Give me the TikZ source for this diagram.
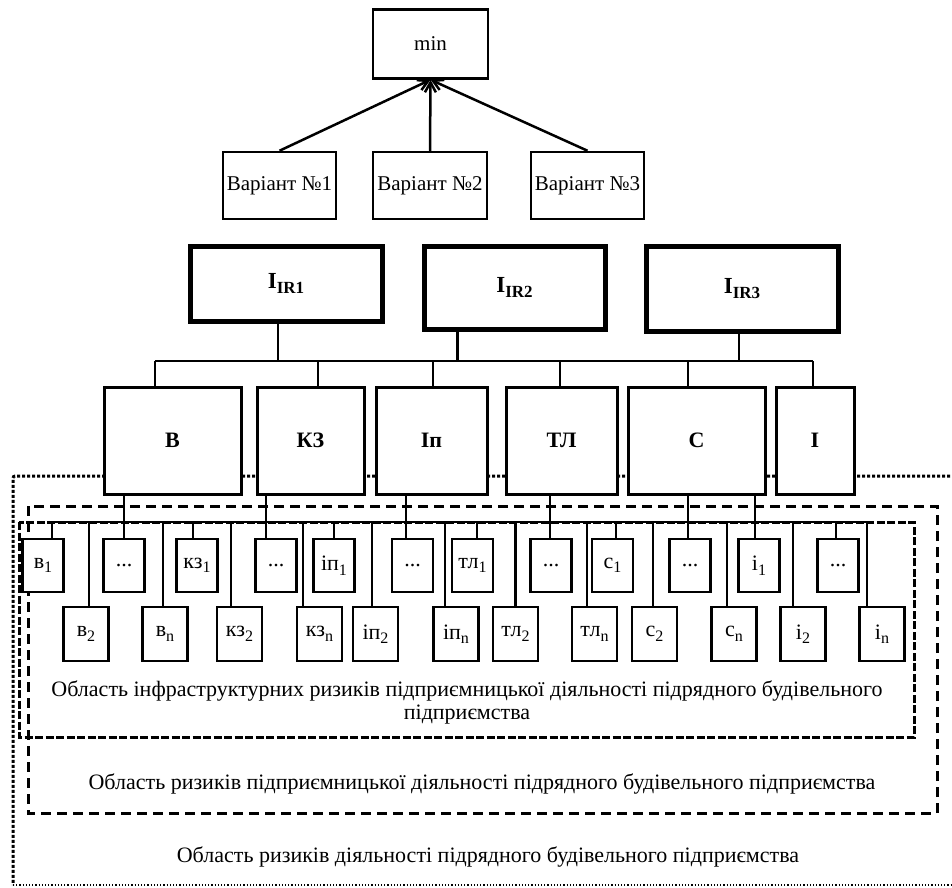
\documentclass[tikz,border=0pt]{standalone}
\usepackage{fontspec}
\setmainfont{Liberation Serif}
\usetikzlibrary{arrows.meta}
\tikzset{
  box/.style={draw, fill=white, line width=2.5pt, inner sep=0pt, font=\fontsize{21}{24}\selectfont},
  irbox/.style={draw, fill=white, line width=5pt, inner sep=0pt, font=\bfseries\fontsize{23}{26}\selectfont},
  catbox/.style={draw, fill=white, line width=3pt, inner sep=0pt, minimum height=107pt, font=\bfseries\fontsize{22}{25}\selectfont},
  upbox/.style={draw, fill=white, line width=2.5pt, inner sep=0pt, minimum width=41pt, minimum height=53pt, font=\fontsize{22}{22}\selectfont},
  lowbox/.style={draw, fill=white, line width=2.5pt, inner sep=0pt, minimum width=45pt, minimum height=54pt, font=\fontsize{22}{22}\selectfont},
  link/.style={line width=2.5pt},
  arr/.style={line width=2.5pt, -{Straight Barb[length=10pt,width=11pt]}},
  area/.style={font=\fontsize{22}{23}\selectfont, align=center},
}
\newcommand{\lowsub}[1]{\raisebox{-0.45ex}{\fontsize{16}{16}\selectfont #1}}
\newcommand{\irsub}[1]{\raisebox{-0.55ex}{\fontsize{17}{17}\selectfont #1}}

\begin{document}
\begin{tikzpicture}[x=1pt, y=-1pt]
  \useasboundingbox (0,0) rectangle (952,887);

  % Risk areas
  \draw[line width=3pt, dotted, rounded corners=2pt] (960,476) -- (13,476) -- (13,885);
  \draw[line width=1.2pt, dotted] (13,885) -- (960,885);
  \draw[line width=3pt, dash pattern=on 10pt off 6pt] (28,506) rectangle (937,813);
  \draw[line width=3pt, dash pattern=on 8pt off 2.5pt] (19,522) rectangle (914,737);

  \node[area] (aInfra) at (467,702) {Область інфраструктурних ризиків підприємницької діяльності підрядного будівельного\\підприємства};
  \node[area] (aBiz) at (482,784) {Область ризиків підприємницької діяльності підрядного будівельного підприємства};
  \node[area] (aAll) at (488,857) {Область ризиків діяльності підрядного будівельного підприємства};

  % Criterion and variants
  \node[box, minimum width=115pt, minimum height=69pt] (min) at (430.5,44) {min};
  \node[box, minimum width=113pt, minimum height=67pt] (var1) at (279.5,185.5) {Варіант №1};
  \node[box, minimum width=114pt, minimum height=67pt] (var2) at (430,185.5) {Варіант №2};
  \node[box, minimum width=113pt, minimum height=67pt] (var3) at (587.5,185.5) {Варіант №3};

  \draw[arr] (var1.north) -- (min.south);
  \draw[arr] (var2.north) -- (min.south);
  \draw[arr] (var3.north) -- (min.south);

  % Integral indices
  \node[irbox, minimum width=192pt, minimum height=75pt] (ir1) at (286,283.5) {I\irsub{IR1}};
  \node[irbox, minimum width=181pt, minimum height=83pt] (ir2) at (514.5,287.5) {I\irsub{IR2}};
  \node[irbox, minimum width=192pt, minimum height=85pt] (ir3) at (742,288.5) {I\irsub{IR3}};

  % Risk groups
  \node[catbox, minimum width=137pt] (cV) at (172.5,440.5) {В};
  \node[catbox, minimum width=107pt] (cKZ) at (310.5,440.5) {КЗ};
  \node[catbox, minimum width=111pt] (cIP) at (431.5,440.5) {Іп};
  \node[catbox, minimum width=111pt] (cTL) at (561.5,440.5) {ТЛ};
  \node[catbox, minimum width=137pt] (cS) at (696.5,440.5) {С};
  \node[catbox, minimum width=78pt] (cI) at (815,440.5) {І};

  \coordinate (grpL) at (155,361);
  \coordinate (grpR) at (813,361);
  \draw[link] (grpL) -- (grpR);
  \draw[line width=1.2pt] ([xshift=-8pt]ir1.south) -- ([xshift=-8pt]ir1.south |- grpL);
  \draw[line width=3pt] ([xshift=-57.5pt]ir2.south) -- ([xshift=-57.5pt]ir2.south |- grpL);
  \draw[line width=1.2pt] ([xshift=-3pt]ir3.south) -- ([xshift=-3pt]ir3.south |- grpL);
  \draw[link] ([xshift=-17.5pt]cV.north) -- ([xshift=-17.5pt]cV.north |- grpL);
  \draw[link] ([xshift=7.5pt]cKZ.north) -- ([xshift=7.5pt]cKZ.north |- grpL);
  \draw[link] ([xshift=1.5pt]cIP.north) -- ([xshift=1.5pt]cIP.north |- grpL);
  \draw[link] ([xshift=-1.5pt]cTL.north) -- ([xshift=-1.5pt]cTL.north |- grpL);
  \draw[link] ([xshift=-8.5pt]cS.north) -- ([xshift=-8.5pt]cS.north |- grpL);
  \draw[link] ([xshift=-2pt]cI.north) -- ([xshift=-2pt]cI.north |- grpL);

  % Individual risks, upper row
  \node[upbox] (b1) at (43,565.5) {в\lowsub{1}};
  \node[upbox] (d1) at (124,565.5) {...};
  \node[upbox] (k1) at (197,565.5) {кз\lowsub{1}};
  \node[upbox] (d2) at (276,565.5) {...};
  \node[upbox] (p1) at (334,565.5) {іп\lowsub{1}};
  \node[upbox] (d3) at (412.5,565.5) {...};
  \node[upbox] (t1) at (472.5,565.5) {тл\lowsub{1}};
  \node[upbox] (d4) at (551,565.5) {...};
  \node[upbox] (s1) at (612.5,565.5) {с\lowsub{1}};
  \node[upbox] (d5) at (690,565.5) {...};
  \node[upbox] (i1) at (759,565.5) {і\lowsub{1}};
  \node[upbox] (d6) at (838,565.5) {...};

  % Individual risks, lower row
  \node[lowbox] (b2) at (86,634) {в\lowsub{2}};
  \node[lowbox] (bn) at (165,634) {в\lowsub{n}};
  \node[lowbox] (k2) at (239.5,634) {кз\lowsub{2}};
  \node[lowbox] (kn) at (319.5,634) {кз\lowsub{n}};
  \node[lowbox] (p2) at (375.5,634) {іп\lowsub{2}};
  \node[lowbox] (pn) at (456,634) {іп\lowsub{n}};
  \node[lowbox] (t2) at (515.5,634) {тл\lowsub{2}};
  \node[lowbox] (tn) at (594.5,634) {тл\lowsub{n}};
  \node[lowbox] (s2) at (654.5,634) {с\lowsub{2}};
  \node[lowbox] (sn) at (734,634) {с\lowsub{n}};
  \node[lowbox] (i2) at (803,634) {і\lowsub{2}};
  \node[lowbox] (in) at (882,634) {і\lowsub{n}};

  % Group to risk links
  \coordinate (subL) at (52,522);
  \coordinate (subR) at (867,522);
  \draw[link] (subL) -- (subR);
  \draw[link] (d1.north) -- (d1.north |- cV.south);
  \draw[link] ([xshift=-10pt]d2.north) -- ([xshift=-10pt]d2.north |- cKZ.south);
  \draw[link] ([xshift=-6.5pt]d3.north) -- ([xshift=-6.5pt]d3.north |- cIP.south);
  \draw[link] ([xshift=-1pt]d4.north) -- ([xshift=-1pt]d4.north |- cTL.south);
  \draw[link] ([xshift=-2pt]d5.north) -- ([xshift=-2pt]d5.north |- cS.south);
  \draw[link] ([xshift=-4pt]i1.north) -- ([xshift=-4pt]i1.north |- cS.south);

  \draw[link] ([xshift=9pt]b1.north) -- ([xshift=9pt]b1.north |- subL);
  \draw[link] ([xshift=-4pt]k1.north) -- ([xshift=-4pt]k1.north |- subL);
  \draw[link] (p1.north) -- (p1.north |- subL);
  \draw[link] ([xshift=4.5pt]t1.north) -- ([xshift=4.5pt]t1.north |- subL);
  \draw[link] ([xshift=3.5pt]s1.north) -- ([xshift=3.5pt]s1.north |- subL);
  \draw[link] ([xshift=-2pt]d6.north) -- ([xshift=-2pt]d6.north |- subL);

  \draw[link] ([xshift=3pt]b2.north) -- ([xshift=3pt]b2.north |- subL);
  \draw[link] ([xshift=-2pt]bn.north) -- ([xshift=-2pt]bn.north |- subL);
  \draw[link] ([xshift=-8.5pt]k2.north) -- ([xshift=-8.5pt]k2.north |- subL);
  \draw[link] ([xshift=-16.5pt]kn.north) -- ([xshift=-16.5pt]kn.north |- subL);
  \draw[link] ([xshift=-3.5pt]p2.north) -- ([xshift=-3.5pt]p2.north |- subL);
  \draw[link] ([xshift=-11pt]pn.north) -- ([xshift=-11pt]pn.north |- subL);
  \draw[link] (t2.north) -- (t2.north |- subL);
  \draw[link] ([xshift=-7.5pt]tn.north) -- ([xshift=-7.5pt]tn.north |- subL);
  \draw[link] ([xshift=-1.5pt]s2.north) -- ([xshift=-1.5pt]s2.north |- subL);
  \draw[link] ([xshift=-7pt]sn.north) -- ([xshift=-7pt]sn.north |- subL);
  \draw[link] ([xshift=-10pt]i2.north) -- ([xshift=-10pt]i2.north |- subL);
  \draw[link] ([xshift=-15pt]in.north) -- ([xshift=-15pt]in.north |- subL);
\end{tikzpicture}
\end{document}
